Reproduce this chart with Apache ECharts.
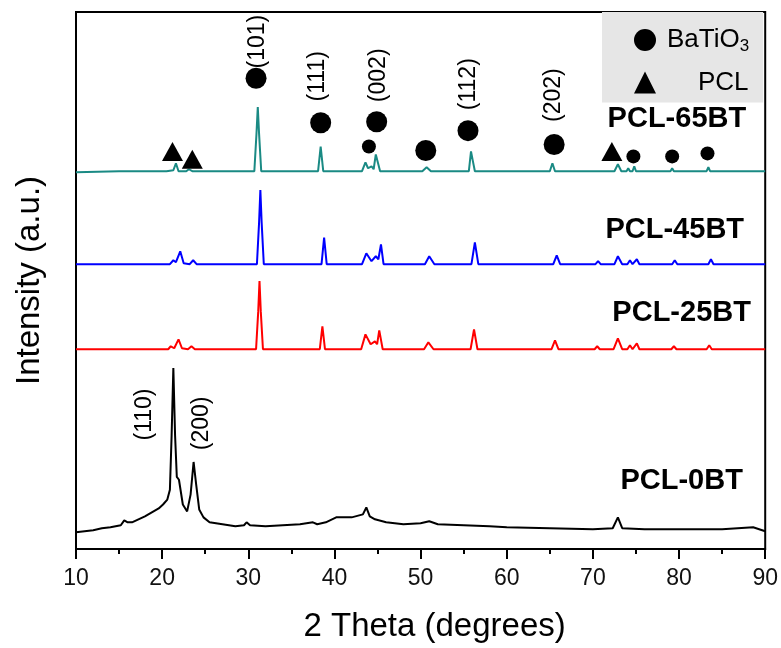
<!DOCTYPE html>
<html>
<head>
<meta charset="utf-8">
<script src="https://cdn.jsdelivr.net/npm/echarts@6/dist/echarts.min.js"></script>
<style>
html, body { margin: 0; padding: 0; background: #fff; }
#xrdChart { width: 781px; height: 648px; }
</style>
</head>
<body>
<div id="xrdChart"></div>
<script>
/*XRD数据 [2θ, 强度(a.u.)]*/
var pcl65 = [
    [10, 381], [15, 382], [20.5, 382], [21.3, 383], [21.6, 390], [21.9, 382], [22.8, 382], [23.1, 384], [23.5, 382],
    [30.7, 382], [30.95, 420], [31.1, 447], [31.25, 420], [31.5, 382], [38.1, 382], [38.4, 407], [38.7, 382],
    [43.2, 382], [43.6, 391], [43.9, 385], [44.3, 387], [44.55, 384], [44.8, 399], [45.0, 401], [45.3, 382],
    [50.2, 382], [50.7, 386], [51.2, 382], [55.6, 382], [55.85, 402], [56.05, 393], [56.3, 382],
    [65.0, 382], [65.3, 390], [65.6, 382], [69.8, 382], [70.0, 384], [70.2, 382], [72.5, 382], [72.9, 389], [73.3, 382],
    [73.9, 382], [74.1, 385], [74.3, 382], [74.6, 382], [74.8, 387], [75.0, 382], [79.0, 382], [79.2, 385], [79.4, 382],
    [83.2, 382], [83.4, 386], [83.6, 382], [90, 382]
];
var pcl45 = [
    [10, 288], [15, 288], [20.9, 288], [21.3, 292], [21.6, 290], [22.1, 301], [22.5, 289], [23.2, 288], [23.6, 292], [24.0, 288],
    [31.0, 288], [31.25, 330], [31.4, 363], [31.55, 330], [31.8, 288], [38.5, 288], [38.8, 315], [39.1, 288],
    [43.2, 288], [43.7, 299], [44.3, 291], [44.8, 296], [45.1, 293], [45.4, 308], [45.7, 288],
    [50.5, 288], [51.0, 296], [51.6, 288], [55.9, 288], [56.3, 310], [56.7, 288], [65.4, 288], [65.8, 297], [66.2, 288],
    [70.3, 288], [70.6, 291], [70.9, 288], [72.5, 288], [72.9, 296], [73.4, 288], [74.0, 288], [74.3, 292], [74.6, 288],
    [74.8, 288], [75.1, 293], [75.4, 288], [79.2, 288], [79.5, 292], [79.8, 288], [83.4, 288], [83.7, 293], [84.0, 288], [90, 288]
];
var pcl25 = [
    [10, 202], [15, 202], [20.7, 202], [21.0, 205], [21.4, 203], [21.9, 212], [22.3, 203], [23.0, 202], [23.4, 205], [23.8, 202],
    [30.9, 202], [31.15, 240], [31.3, 271], [31.45, 240], [31.7, 202], [38.3, 202], [38.6, 225], [38.9, 202],
    [43.1, 202], [43.6, 217], [44.2, 207], [44.7, 210], [44.95, 207], [45.2, 221], [45.6, 202],
    [50.4, 202], [50.9, 209], [51.5, 202], [55.8, 202], [56.2, 222], [56.6, 202], [65.2, 202], [65.6, 211], [66.0, 202],
    [70.2, 202], [70.5, 205], [70.8, 202], [72.4, 202], [72.9, 213], [73.4, 202], [74.0, 202], [74.3, 206], [74.6, 202],
    [74.8, 202], [75.1, 208], [75.4, 202], [79.1, 202], [79.4, 205], [79.7, 202], [83.2, 202], [83.5, 206], [83.8, 202], [90, 202]
];
var pcl0 = [
    [10, 17], [11, 18], [12, 19], [13, 21], [14.0, 22], [15.2, 24], [15.6, 29], [16.0, 27], [16.5, 27], [17, 29], [18, 33],
    [19, 38], [19.6, 41], [20.1, 45], [20.6, 50], [20.9, 60], [21.1, 115], [21.3, 183], [21.5, 115], [21.7, 73], [21.95, 70],
    [22.4, 45], [22.9, 38], [23.3, 55], [23.65, 88], [23.95, 65], [24.3, 40], [24.8, 32], [25.5, 27], [27, 25], [28.5, 23],
    [29.5, 24], [29.8, 27], [30.2, 24], [32, 23], [34, 24], [36, 25], [37.5, 27], [38, 25], [39, 27], [40.2, 32], [42, 32],
    [43.3, 35], [43.7, 42], [44.1, 33], [44.7, 30], [46, 27], [48, 25], [50, 26], [51, 28], [52, 25], [55, 24], [58, 23],
    [60, 22], [65, 21], [70, 20], [72.3, 21], [72.9, 32], [73.4, 21], [76, 20], [80, 20], [85, 20], [88.6, 22], [89.3, 20], [90, 18]
];
/*峰标记*/
var batioBig = [[30.9, 476], [38.4, 431], [44.9, 432], [50.6, 403], [55.5, 423], [65.5, 409]];
var batioSmall = [[44.0, 407], [74.7, 397], [79.2, 397], [83.3, 400]];
var pclMarks = [[21.2, 402], [23.5, 394], [72.2, 402]];
var hklNames = ['(101)', '(111)', '(002)', '(112)', '(202)', '(110)', '(200)'];
var hklPos = [[31.1, 513], [38.1, 478], [45.1, 479], [55.55, 470], [65.4, 459], [18.0, 136], [24.6, 127]];
var sampleNames = ['PCL-65BT', 'PCL-45BT', 'PCL-25BT', 'PCL-0BT'];
var samplePos = [[79.75, 435], [79.5, 323], [80.3, 239], [80.3, 69]];
var xTicks = [10, 20, 30, 40, 50, 60, 70, 80, 90];

var font = 'Liberation Sans, Arial, sans-serif';
var xrdChart = echarts.init(document.getElementById('xrdChart'));

function lineSeries(name, data, c) {
    return {
        name: name, type: 'line', data: data, symbol: 'none', silent: true, animation: false,
        lineStyle: { color: c, width: 2 }, z: 2
    };
}
function markSeries(name, data, sym, size) {
    return {
        name: name, type: 'scatter', symbol: sym, symbolSize: size, data: data, silent: true, z: 4,
        itemStyle: { color: '#000', opacity: 1 }
    };
}
function textSeries(names, pos, rotate, size, weight) {
    return {
        type: 'scatter', symbolSize: 0, silent: true, animation: false, z: 5,
        itemStyle: { opacity: 1 },
        data: pos.map(function (p, i) { return { name: names[i], value: p }; }),
        label: {
            show: true, position: 'inside', rotate: rotate, formatter: '{b}',
            fontFamily: font, fontSize: size, fontWeight: weight, color: '#000'
        }
    };
}

var option = {
    animation: false,
    grid: { left: 76, right: 15, top: 12, bottom: 93, show: true, borderColor: '#000', borderWidth: 2, containLabel: false },
    legend: {
        data: ['BaTiO3', 'PCL'], orient: 'vertical', left: 602, top: 12, selectedMode: false,
        backgroundColor: '#e6e6e6', padding: [15, 14, 7, 32], itemGap: 15, itemWidth: 22, itemHeight: 22,
        formatter: function (name) {
            return name == 'BaTiO3' ? '{n|BaTiO}{s|3}' : '{p|PCL}';
        },
        textStyle: {
            rich: {
                n: { fontFamily: font, fontSize: 26, color: '#000', padding: [0, 0, 0, 6] },
                s: { fontFamily: font, fontSize: 17, color: '#000', verticalAlign: 'bottom', padding: [12, 0, 0, 0] },
                p: { fontFamily: font, fontSize: 26, color: '#000', padding: [0, 0, 0, 37] }
            }
        }
    },
    xAxis: {
        type: 'value', min: 10, max: 90, interval: 10,
        name: '2 Theta (degrees)', nameLocation: 'middle', nameGap: 61,
        nameTextStyle: { fontFamily: font, fontSize: 33, color: '#000', padding: [0, 0, 0, 28] },
        axisLine: { onZero: false, lineStyle: { color: '#000', width: 2 } },
        axisTick: { length: 10, lineStyle: { color: '#000', width: 2 } },
        minorTick: { show: true, splitNumber: 2, length: 5, lineStyle: { color: '#000', width: 2 } },
        splitLine: { show: false },
        axisLabel: {
            fontFamily: font, fontSize: 23, color: '#111', margin: 18,
            formatter: function (v) { return xTicks.indexOf(v) >= 0 ? String(v) : ''; }
        }
    },
    yAxis: {
        type: 'value', min: 0, max: 543,
        name: 'Intensity (a.u.)', nameLocation: 'middle', nameGap: 30,
        nameTextStyle: { fontFamily: font, fontSize: 33, color: '#000' },
        axisLine: { show: true, lineStyle: { color: '#000', width: 2 } },
        axisTick: { show: false }, axisLabel: { show: false }, splitLine: { show: false }
    },
    series: [
        lineSeries('PCL-0BT', pcl0, '#000000'),
        lineSeries('PCL-25BT', pcl25, '#ff0000'),
        lineSeries('PCL-45BT', pcl45, '#0000ff'),
        lineSeries('PCL-65BT', pcl65, '#1a8a84'),
        markSeries('BaTiO3', batioBig, 'circle', 21),
        markSeries('BaTiO3', batioSmall, 'circle', 14),
        markSeries('PCL', pclMarks, 'triangle', [21, 19]),
        textSeries(hklNames, hklPos, 90, 23, 'normal'),
        textSeries(sampleNames, samplePos, 0, 29, 'bold')
    ]
};
xrdChart.setOption(option);
</script>
</body>
</html>
